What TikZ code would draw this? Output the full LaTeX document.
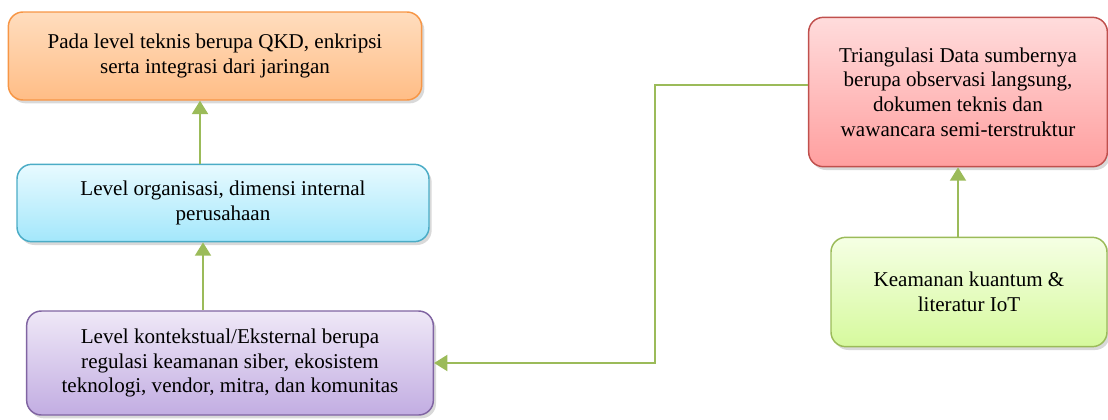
\documentclass[tikz,border=0pt]{standalone}
\usepackage{fontspec}
\setmainfont{Liberation Serif}
\usetikzlibrary{arrows.meta,positioning,shadows}
\definecolor{oranget}{HTML}{FFDDBE}
\definecolor{orangeb}{HTML}{FFBD86}
\definecolor{orangel}{HTML}{F79646}
\definecolor{bluet}{HTML}{E8FAFF}
\definecolor{blueb}{HTML}{A3E7FB}
\definecolor{bluel}{HTML}{4BACC6}
\definecolor{purplet}{HTML}{EFE8F7}
\definecolor{purpleb}{HTML}{C2ADE2}
\definecolor{purplel}{HTML}{8064A2}
\definecolor{redt}{HTML}{FFDCDC}
\definecolor{redb}{HTML}{FF9F9F}
\definecolor{redl}{HTML}{C0504D}
\definecolor{greent}{HTML}{F5FFE4}
\definecolor{greenb}{HTML}{D6F99D}
\definecolor{greenl}{HTML}{9BBB59}
\tikzset{
  % kotak
  box/.style={rectangle,rounded corners=11pt,line width=1.1pt,align=center,
              inner sep=0pt,font=\fontsize{15.8}{18.5}\selectfont,
              drop shadow={shadow xshift=2pt,shadow yshift=-2.5pt,opacity=0.3}},
  boxorange/.style={box,draw=orangel,top color=oranget,bottom color=orangeb},
  boxblue/.style={box,draw=bluel,top color=bluet,bottom color=blueb},
  boxpurple/.style={box,draw=purplel,top color=purplet,bottom color=purpleb},
  boxred/.style={box,draw=redl,top color=redt,bottom color=redb},
  boxgreen/.style={box,draw=greenl,top color=greent,bottom color=greenb},
  % panah
  flow/.style={-{Triangle[length=10pt,width=12pt]},draw=greenl,line width=1.5pt},
}
\begin{document}
\begin{tikzpicture}[x=0.75pt,y=-0.75pt]
\useasboundingbox (0,0) rectangle (1108,419);
  \node[boxorange,minimum width=310pt,minimum height=66pt] (teknis) at (215,56)
    {Pada level teknis berupa QKD, enkripsi\\serta integrasi dari jaringan};
  \node[boxblue,minimum width=309pt,minimum height=58pt] (organisasi) at (223,203)
    {Level organisasi, dimensi internal\\perusahaan};
  \node[boxpurple,minimum width=305pt,minimum height=78pt] (kontekstual) at (230,363)
    {Level kontekstual/Eksternal berupa\\regulasi keamanan siber, ekosistem\\teknologi, vendor, mitra, dan komunitas};
  \node[boxred,minimum width=224pt,minimum height=112pt] (triangulasi) at (958,92)
    {Triangulasi Data sumbernya\\berupa observasi langsung,\\dokumen teknis dan\\wawancara semi-terstruktur};
  \node[boxgreen,minimum width=207pt,minimum height=82pt] (literatur) at (969,292)
    {Keamanan kuantum \&\\literatur IoT};
  \coordinate (belok) at (655,85);
  \draw[flow] (organisasi.north -| 200,0) -- (teknis.south -| 200,0);
  \draw[flow] (kontekstual.north -| 203,0) -- (organisasi.south -| 203,0);
  \draw[flow] (literatur.north -| triangulasi.south) -- (triangulasi.south);
  \draw[flow] (triangulasi.west |- belok) -- (belok) |- (kontekstual.east);
\end{tikzpicture}
\end{document}
